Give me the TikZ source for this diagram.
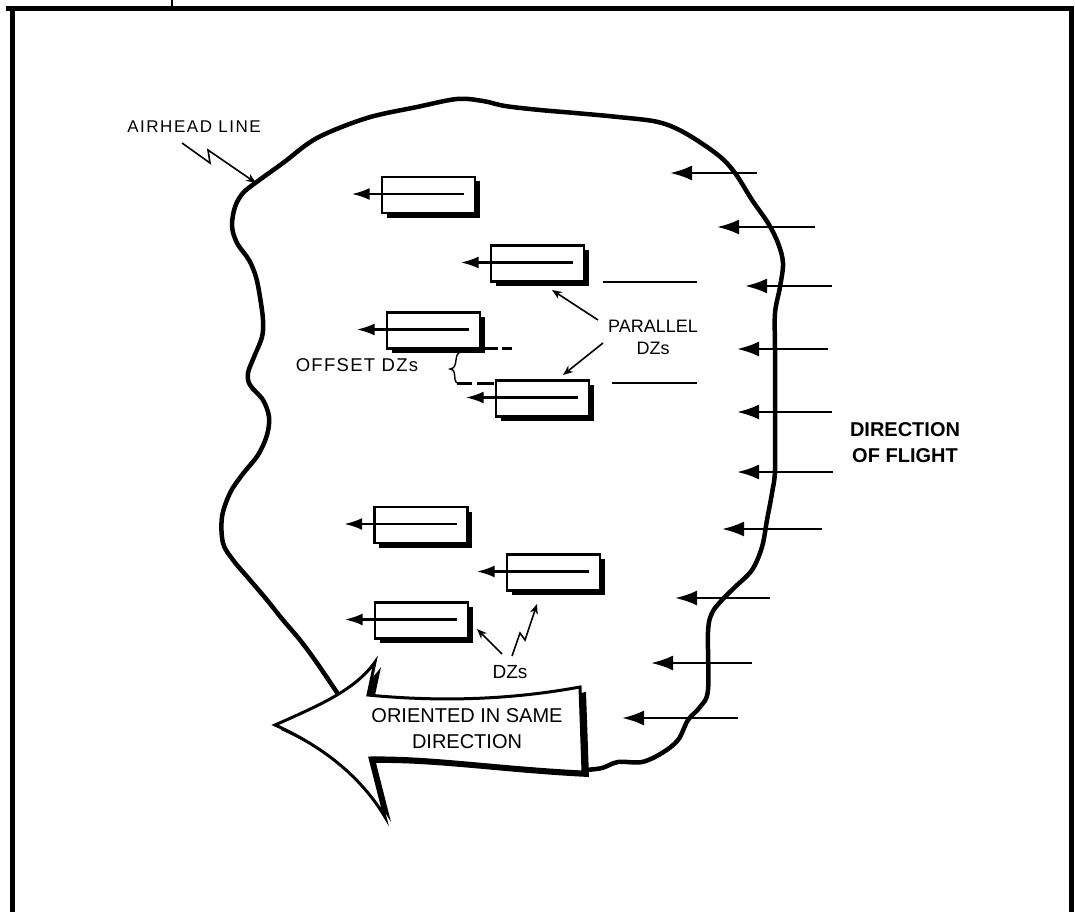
\documentclass[tikz,border=0pt]{standalone}
\usepackage{fontspec}
\setmainfont{Liberation Sans}
\newfontfamily\lsA[LetterSpace=9]{Liberation Sans}
\newfontfamily\lsB[LetterSpace=7]{Liberation Sans}
\usetikzlibrary{arrows.meta,shadows}
\begin{document}
\begin{tikzpicture}[x=1pt,y=-1pt,
  frameline/.style={line width=5pt},
  airline/.style={line width=4.5pt, line join=round, line cap=round},
  dzbox/.style={draw, line width=2.6pt, fill=white, minimum width=93pt, minimum height=36pt, inner sep=0pt,
     general shadow={fill=black, shadow xshift=4.5pt, shadow yshift=-4.5pt}},
  dzarrow/.style={line width=2.4pt, -{Latex[length=18pt,width=12pt]}},
  flight/.style={line width=2.6pt, -{Latex[length=22pt,width=15pt]}},
  pointer/.style={line width=1.6pt, -{Stealth[length=10pt,width=8pt]}},
  sideline/.style={line width=2.2pt},
  offdash/.style={line width=3pt},
  lbl/.style={inner sep=0pt, align=center},
  bigarrow/.style={line width=3pt, line join=miter, fill=white}
]
\useasboundingbox (0,0) rectangle (1075,912);
\fill[white] (0,0) rectangle (1075,912);

% frame
\draw[frameline] (12,912) -- (12,9);
\draw[frameline] (6,9) -- (1074,9);
\draw[frameline] (1071,9) -- (1071,912);
\draw[line width=1.2pt] (172,0) -- (172,8);

% airhead line
\draw[airline] plot[smooth, tension=0.55] coordinates {
 (340,697) (317,663) (300,640) (283,620) (267,600) (250,580) (233,560) (223,543) (222,517) (230,493)
 (242,475) (258,455) (267,435) (269,417) (263,400) (250,385) (248,373) (254,357) (262,337) (263,320)
 (260,297) (256,277) (249,260) (237,243) (232,226) (235,207) (243,193) (258,181) (283,163) (317,138)
 (367,118) (417,107) (457,99) (483,101) (505,106) (540,110) (575,113) (618,117) (658,122) (685,133)
 (718,155) (735,173) (752,200) (768,223) (778,243) (783,263) (780,287) (775,313) (775,350) (775,413)
 (775,470) (772,493) (767,520) (762,547) (752,570) (735,587) (722,600) (712,613) (708,632) (708,690)
 (700,707) (688,720) (678,740) (662,753) (642,762) (618,762) (602,768) (585,770)};

% flight arrows
\foreach \n/\xs/\xe/\yy in {1/757/670/173, 2/815/717/227, 3/832/745/286, 4/828/737/349, 5/832/737/412,
   6/833/737/472, 7/822/722/529, 8/770/675/598, 9/752/651/663, 10/738/622/718}{
  \coordinate (fs\n) at (\xs,\yy);
  \coordinate (fe\n) at (\xe,\yy);
  \draw[flight] (fs\n) -- (fe\n);
}

% big arrow with shadow
\begin{scope}[shift={(6,5)}]
\fill[black] (275,725) .. controls (320,705) and (355,690) .. (375,662) -- (368,695)
  .. controls (450,703) and (520,698) .. (580,687) -- (583,772)
  .. controls (500,768) and (430,757) .. (370,758) -- (385,817)
  .. controls (360,775) and (320,745) .. (275,725) -- cycle;
\end{scope}
\draw[bigarrow] (275,725) .. controls (320,705) and (355,690) .. (375,662) -- (368,695)
  .. controls (450,703) and (520,698) .. (580,687) -- (583,772)
  .. controls (500,768) and (430,757) .. (370,758) -- (385,817)
  .. controls (360,775) and (320,745) .. (275,725) -- cycle;
\node[lbl, font=\fontsize{20}{26}\selectfont] (oriented) at (467,728.5) {ORIENTED IN SAME\\DIRECTION};

% DZ boxes
\node[dzbox] (b1) at (428.5,195) {};
\node[dzbox] (b2) at (537.5,263.5) {};
\node[dzbox] (b3) at (433.5,330.5) {};
\node[dzbox] (b4) at (542.5,398.5) {};
\node[dzbox] (b5) at (421,525) {};
\node[dzbox] (b6) at (553.5,572.5) {};
\node[dzbox] (b7) at (421.5,620.5) {};
\foreach \b in {b1,b2,b3,b4,b5,b6,b7}{
  \draw[dzarrow] ([xshift=-12pt,yshift=1pt]\b.east) -- ([xshift=-29pt,yshift=1pt]\b.west);
}

% lines right of parallel DZs
\coordinate (p2a) at (603,282); \coordinate (p2b) at (697,282);
\coordinate (p4a) at (612,383); \coordinate (p4b) at (697,383);
\draw[sideline] (p2a) -- (p2b);
\draw[sideline] (p4a) -- (p4b);

% offset dashes and brace
\coordinate (d3a) at (485,348); \coordinate (d3b) at (512,348);
\draw[offdash, dash pattern=on 13pt off 4pt on 10pt off 10pt] (d3a) -- (d3b);
\coordinate (d4a) at (457,383); \coordinate (d4b) at (494,383);
\draw[offdash, dash pattern=on 15pt off 5pt on 17pt off 10pt] (d4a) -- (d4b);
\coordinate (brt) at (462,352);
\coordinate (brb) at (461,384);
\draw[line width=1.4pt] (brt) .. controls (452,352) and (460,368) .. (450,369)
   .. controls (459,370) and (450,384) .. (brb);

% labels
\node[lbl, font=\lsA\fontsize{17}{20}\selectfont] (airhead) at (194,127) {AIRHEAD LINE};
\node[lbl, font=\fontsize{18}{22}\selectfont] (parallel) at (653,337.5) {PARALLEL\\DZs};
\node[lbl, font=\lsB\fontsize{18.5}{22}\selectfont] (offset) at (357,365) {OFFSET DZs};
\node[lbl, font=\bfseries\fontsize{20}{26}\selectfont] (flightlbl) at (905,443) {DIRECTION\\OF FLIGHT};
\node[lbl, font=\fontsize{19}{22}\selectfont] (dzs) at (510,672) {DZs};

% pointers
\coordinate (air1) at (182,143);
\coordinate (airtip) at (256,183);
\draw[pointer] (air1) -- (210,163) -- (208,150) -- (airtip);
\coordinate (par1) at (598,320);
\coordinate (par1t) at (552,290);
\draw[pointer] (par1) -- (par1t);
\coordinate (par2) at (603,343);
\coordinate (par2t) at (563,375);
\draw[pointer] (par2) -- (par2t);
\coordinate (dz1) at (502,654);
\coordinate (dz1t) at (477,629);
\draw[pointer] (dz1) -- (dz1t);
\coordinate (dz2) at (512,656);
\coordinate (dz2t) at (537,604);
\draw[pointer] (dz2) -- (520,633) -- (525,640) -- (dz2t);
\end{tikzpicture}
\end{document}
